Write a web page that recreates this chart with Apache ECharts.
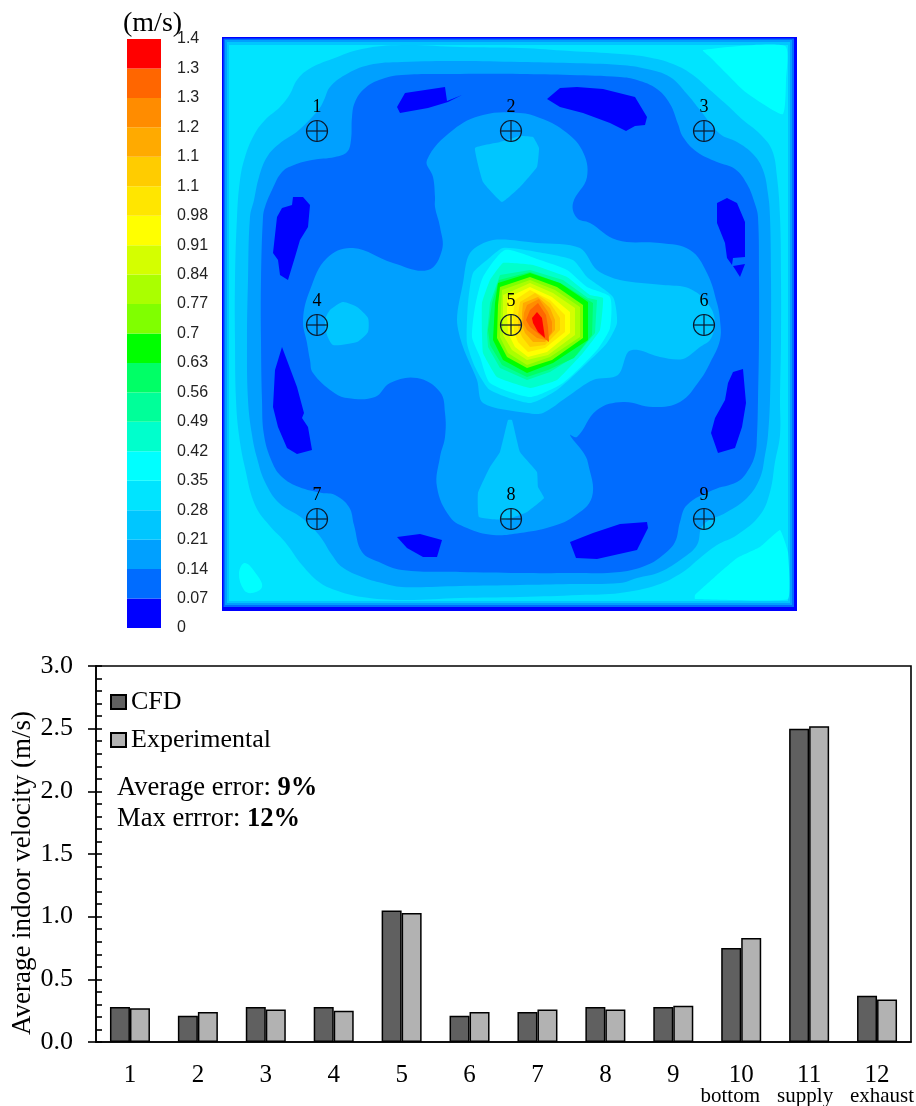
<!DOCTYPE html>
<html>
<head>
<meta charset="utf-8">
<style>html,body{margin:0;padding:0;background:#fff}#c{width:916px;height:1106px}</style>
<script src="https://cdn.jsdelivr.net/npm/echarts@6/dist/echarts.min.js"></script>
</head>
<body>
<div id="c"></div>
<script>
// ---- bar chart data ----
const categories = ['1','2','3','4','5','6','7','8','9','10','11','12'];
const categoryNotes = ['','','','','','','','','','bottom','supply','exhaust'];
const cfd = [0.28,0.21,0.28,0.28,1.05,0.21,0.24,0.28,0.28,0.75,2.50,0.37];
const experimental = [0.27,0.24,0.26,0.25,1.03,0.24,0.26,0.26,0.29,0.83,2.52,0.34];

// ---- colour scale ----
const scaleLabels = ['0','0.07','0.14','0.21','0.28','0.35','0.42','0.49','0.56','0.63','0.7','0.77','0.84','0.91','0.98','1.1','1.1','1.2','1.3','1.3','1.4'];
const bandColors = ['#0000FF','#006CFF','#00A0FF','#00C6FF','#00E4FF','#00FFFF','#00FFCC','#00FF99','#00FF66','#00FF00','#80FF00','#AAFF00','#D4FF00','#FFFF00','#FFE600','#FFCC00','#FFAA00','#FF8C00','#FF6600','#FF0000'];

// ---- measuring points ----
const pointNames = ['1','2','3','4','5','6','7','8','9'];
const pointX = [317,511,704,317,511,704,317,511,704];
const pointY = [131,131,131,325,325,325,519,519,519];

// ---- contour boundaries of the velocity field (room position units) ----
const edge0 = [[222,37],[797,37],[797,611],[222,611]];
const edge1 = [[223.5,38.5],[794,38.5],[794,607],[223.5,607]];
const edge2 = [[225,40],[792,40],[792,605],[225,605]];
const edge3 = [[227,42],[790,42],[790,603],[227,603]];
const edge4 = [[229,45],[788,45],[788,601],[229,601]];
const cyanTR = [[703,50],[785,46],[786,80],[783,114],[763,104],[743,90],[727,74],[710,57]];
const cyanBL = [[245,563],[257,575],[262,587],[252,593],[244,590],[239,573]];
const cyanBR = [[780,530],[788,552],[788,599],[695,599],[695,595],[717,575],[737,558],[760,547]];
const ringC6 = [[239,435],[236,400],[235,340],[235,280],[237,217],[240,180],[245,157],[254,135],[265,120],[280,107],[290,94],[297,80],[309,69],[332,59],[362,49],[402,45],[460,47],[520,48],[570,51],[620,54],[647,57],[673,64],[693,75],[710,90],[727,105],[743,120],[760,134],[772,150],[777,177],[780,217],[781,280],[781,340],[780,400],[780,435],[775,462],[770,492],[760,515],[737,535],[717,545],[700,558],[683,572],[657,585],[620,593],[580,595],[520,597],[460,598],[402,600],[362,597],[335,590],[319,582],[302,565],[285,542],[269,525],[255,505],[245,468]];
const ringA0 = [[252,435],[248,400],[247,340],[248,280],[250,217],[254,200],[259,177],[267,157],[279,144],[299,130],[319,109],[324,100],[330,87],[345,75],[369,65],[402,62],[460,61],[520,62],[570,63],[620,65],[647,69],[670,77],[687,94],[700,110],[720,134],[737,142],[753,154],[763,170],[768,194],[770,217],[771,280],[771,340],[770,400],[768,435],[765,455],[760,478],[747,498],[727,512],[703,525],[697,545],[683,558],[660,572],[637,578],[620,583],[570,584],[520,585],[460,586],[402,587],[382,583],[362,577],[342,567],[332,555],[319,535],[302,518],[279,503],[265,482],[257,458]];
const ring6C = [[264,435],[262,400],[261,340],[261,280],[263,217],[265,207],[272,190],[282,172],[294,165],[312,160],[335,157],[347,152],[351,140],[352,117],[355,102],[364,89],[379,80],[402,75],[460,74],[520,74],[570,75],[620,77],[637,80],[657,89],[670,104],[678,124],[683,137],[697,152],[717,162],[735,169],[747,184],[755,204],[758,217],[759,280],[759,340],[758,400],[757,435],[755,455],[747,472],[737,482],[713,490],[687,505],[680,522],[675,542],[663,555],[647,565],[620,572],[570,573],[520,573],[460,572],[402,570],[379,562],[362,552],[354,525],[349,507],[335,495],[322,493],[299,487],[282,477],[272,462]];
const lowA = [[397,107],[405,93],[445,87],[447,101],[462,95],[448,102],[428,108],[400,113]];
const lowB = [[547,99],[560,88],[577,87],[603,89],[635,97],[647,117],[645,125],[635,126],[626,131],[610,123],[583,113],[560,107]];
const lowC = [[293,197],[303,197],[310,205],[308,227],[300,240],[295,257],[288,280],[280,275],[278,260],[273,253],[277,217],[282,208],[292,205]];
const lowD = [[717,203],[727,198],[737,203],[745,222],[745,257],[733,258],[732,265],[727,258],[725,243],[717,223]];
const lowD2 = [[733,266],[745,264],[740,277]];
const lowE = [[282,347],[288,363],[297,387],[304,413],[302,418],[308,427],[312,450],[297,454],[287,448],[278,427],[273,407],[275,370]];
const lowF = [[733,372],[743,369],[746,403],[742,427],[735,448],[718,453],[711,433],[715,418],[725,400],[728,383]];
const lowG = [[397,537],[420,534],[442,540],[437,557],[423,557],[407,548]];
const lowH = [[570,542],[593,533],[620,524],[647,522],[648,528],[637,550],[597,559],[576,558]];
const crossA0 = [[520,113],[483,115],[453,130],[427,160],[433,177],[435,197],[435,207],[440,227],[442,250],[428,270],[393,263],[353,248],[327,258],[310,290],[303,320],[307,343],[310,360],[313,373],[333,392],[347,398],[375,397],[390,383],[417,378],[440,392],[445,413],[445,437],[440,457],[437,487],[450,517],[467,528],[493,535],[520,533],[550,527],[573,517],[592,497],[588,463],[583,452],[570,435],[577,437],[597,410],[623,402],[653,407],[680,402],[700,380],[710,363],[720,340],[720,320],[717,303],[707,273],[690,250],[660,243],[617,240],[590,223],[577,218],[573,203],[587,177],[582,150],[563,130],[540,118]];
const patchTop = [[475,148],[500,142],[520,136],[533,137],[539,148],[537,167],[520,187],[502,202],[483,182]];
const patchLeft = [[325,320],[330,310],[343,302],[357,307],[368,318],[368,332],[357,342],[333,345],[327,335]];
const patchBottom = [[508,420],[512,420],[520,452],[537,472],[538,487],[544,498],[527,512],[505,520],[479,517],[478,493],[490,467],[500,452]];
const coreC6 = [[493,240],[537,243],[580,248],[597,270],[620,280],[663,285],[685,287],[700,295],[712,310],[715,325],[710,340],[700,347],[683,359],[660,357],[638,350],[628,352],[618,375],[593,380],[567,397],[543,413],[527,413],[483,403],[477,380],[463,347],[457,320],[463,283],[470,253]];
const coreE4 = [[503,248],[537,252],[573,260],[587,277],[613,297],[617,323],[607,343],[587,363],[557,390],[530,403],[490,390],[475,367],[467,343],[468,303],[473,273],[487,260]];
const core5 = [[505,250],[540,260],[567,270],[587,287],[610,297],[610,328],[597,350],[563,383],[530,397],[490,383],[480,357],[472,337],[475,307],[483,277]];
const core6 = [[503,263],[533,265],[567,277],[590,295],[603,298],[600,330],[583,353],[557,380],[530,388],[497,377],[483,353],[482,333],[482,303],[490,280]];
const core7 = [[500,275],[530,270],[563,280],[588,298],[597,300],[595,333],[577,355],[550,372],[527,380],[500,368],[488,347],[487,333],[490,303]];
const core8 = [[499,280],[530,272],[562,284],[588,300],[593,303],[592,335],[574,358],[548,370],[527,377],[502,365],[490,345],[488,330],[492,303]];
const core9 = [[498,283],[530,273],[560,283],[588,302],[588,340],[553,363],[527,373],[503,360],[493,340],[495,303]];
const core10 = [[500,287],[530,277],[557,287],[583,305],[583,338],[552,360],[527,368],[507,357],[497,338],[498,305]];
const core11 = [[502,290],[530,280],[555,290],[580,307],[580,337],[550,357],[527,365],[508,353],[500,337],[501,307]];
const core12 = [[503,295],[530,283],[553,293],[575,308],[575,335],[548,355],[527,360],[512,350],[503,335],[503,310]];
const core13 = [[507,298],[530,287],[552,297],[570,312],[570,333],[547,352],[528,357],[515,347],[508,333],[507,313]];
const core14 = [[515,300],[530,290],[550,300],[565,315],[565,332],[545,348],[528,352],[518,342],[514,332],[513,315]];
const core15 = [[520,302],[535,293],[550,303],[560,318],[560,330],[545,345],[530,347],[522,337],[518,327],[518,315]];
const core16 = [[523,303],[538,297],[550,308],[555,320],[555,330],[545,342],[533,342],[525,333],[522,325],[522,313]];
const core17 = [[527,305],[539,299],[548,312],[552,322],[552,332],[546,340],[537,338],[527,330],[523,323],[524,313]];
const core18 = [[530,310],[538,303],[546,315],[548,327],[549,342],[540,335],[530,327],[526,320]];
const core19 = [[537,312],[542,318],[545,338],[538,332],[533,323],[532,318]];

// painting order: [colour band, boundary, rounded?]
const layers = [
  [0,edge0,0],[1,edge1,0],[2,edge2,0],[3,edge3,0],[4,edge4,0],
  [5,cyanTR,0.2],[5,cyanBL,0.4],[5,cyanBR,0.1],
  [3,ringC6,0.4],[2,ringA0,0.4],[1,ring6C,0.4],
  [0,lowA,0],[0,lowB,0],[0,lowC,0],[0,lowD,0],[0,lowD2,0],[0,lowE,0],[0,lowF,0],[0,lowG,0],[0,lowH,0],
  [2,crossA0,0.4],
  [3,patchTop,0.1],[3,patchLeft,0.2],[3,patchBottom,0.1],[3,coreC6,0.3],
  [4,coreE4,0.2],[5,core5,0.2],[6,core6,0.1],[7,core7,0],[8,core8,0],[9,core9,0],[10,core10,0],[11,core11,0],
  [12,core12,0],[13,core13,0],[14,core14,0],[15,core15,0],[16,core16,0],[17,core17,0],[18,core18,0],[19,core19,0]
];

const serif = '"Liberation Serif","Times New Roman",serif';
const sans = '"Liberation Sans",Arial,sans-serif';
const notePad = {bottom:[0,22,0,0], supply:[0,8,0,0], exhaust:[0,0,0,10]};
const noteRich = {};
Object.keys(notePad).forEach(k => { noteRich[k] = {fontFamily:serif,fontSize:21,lineHeight:17,color:'#000',padding:notePad[k]}; });

const chart = echarts.init(document.getElementById('c'), null, {renderer:'canvas'});
chart.setOption({
  animation:false,
  backgroundColor:'#fff',
  grid:[
    {left:96,top:666,width:815,height:376,outerBoundsMode:'none',show:true,borderColor:'#000',borderWidth:1.6,backgroundColor:'transparent'},
    {left:222,top:37,width:575,height:574,outerBoundsMode:'none'},
    {left:127,top:39,width:34,height:589,outerBoundsMode:'none'}
  ],
  xAxis:[
    {gridIndex:0,type:'category',data:categories,
      axisLine:{lineStyle:{color:'#000',width:1.6}},
      axisTick:{length:7,lineStyle:{color:'#000',width:1.6}},
      axisLabel:{margin:20,interval:0,color:'#000',fontFamily:serif,fontSize:25,lineHeight:26,
        formatter:(v,i)=> categoryNotes[i] ? v+'\n{'+categoryNotes[i]+'|'+categoryNotes[i]+'}' : v,
        rich:noteRich}},
    {gridIndex:1,type:'value',min:222,max:797,show:false},
    {gridIndex:2,type:'value',min:0,max:1,show:false}
  ],
  yAxis:[
    {gridIndex:0,type:'value',min:0,max:3,interval:0.5,position:'left',
      name:'Average indoor velocity (m/s)',nameLocation:'middle',nameGap:60,nameRotate:90,nameMoveOverlap:false,
      nameTextStyle:{color:'#000',fontFamily:serif,fontSize:27,padding:[0,38,0,0]},
      axisLine:{show:true,lineStyle:{color:'#000',width:1.6}},
      axisTick:{show:true,length:8,lineStyle:{color:'#000',width:1.6}},
      splitLine:{show:false},
      axisLabel:{margin:23,color:'#000',fontFamily:serif,fontSize:26,formatter:v=>v.toFixed(1)}},
    {gridIndex:0,type:'value',min:0,max:3,interval:0.5,position:'left',
      axisLine:{show:false},
      axisLabel:{show:false},
      splitLine:{show:false},
      axisTick:{show:true,inside:true,length:6,lineStyle:{color:'#000',width:1.6}},
      minorTick:{show:true,splitNumber:5,length:6,lineStyle:{color:'#000',width:1.6}}},
    {gridIndex:1,type:'value',min:37,max:611,inverse:true,show:false},
    {gridIndex:2,type:'value',min:0,max:20,interval:1,position:'right',
      axisLine:{show:false},axisTick:{show:false},splitLine:{show:false},
      axisLabel:{margin:16,color:'#222',fontFamily:sans,fontSize:16,padding:[2,0,0,0],formatter:v=>scaleLabels[v]}}
  ],
  legend:{left:110,top:689,padding:0,orient:'vertical',icon:'rect',itemWidth:15,itemHeight:14,itemGap:12,
    data:['CFD','Experimental'],
    textStyle:{color:'#000',fontFamily:serif,fontSize:26}},
  graphic:[
    {type:'text',left:123,top:10,style:{text:'(m/s)',fontFamily:serif,fontSize:28,fill:'#000'}},
    {type:'text',left:117,top:775,style:{
      rich:{n:{fontFamily:serif,fontSize:26.6,fill:'#000'},b:{fontFamily:serif,fontSize:26.6,fontWeight:'bold',fill:'#000'}},
      text:'{n|Average error: }{b|9%}'}},
    {type:'text',left:117,top:806,style:{
      rich:{n:{fontFamily:serif,fontSize:26.6,fill:'#000'},b:{fontFamily:serif,fontSize:26.6,fontWeight:'bold',fill:'#000'}},
      text:'{n|Max errror: }{b|12%}'}}
  ],
  series:[
    {name:'CFD',type:'bar',xAxisIndex:0,yAxisIndex:0,data:cfd,barWidth:20,barGap:0,
      itemStyle:{color:'#606060',borderColor:'#000',borderWidth:1.5}},
    {name:'Experimental',type:'bar',xAxisIndex:0,yAxisIndex:0,data:experimental,barWidth:20,barGap:0,
      itemStyle:{color:'#B2B2B2',borderColor:'#000',borderWidth:1.5}},
    {type:'custom',xAxisIndex:1,yAxisIndex:2,silent:true,progressive:0,clip:true,
      data:layers.map((l,i)=>[i,0]),
      renderItem:(p,api)=>{
        const l = layers[p.dataIndex];
        const pts = l[1].map(q=>api.coord(q));
        return {type:'polygon',shape:{points:pts,smooth:l[2]||undefined},style:{fill:bandColors[l[0]],stroke:null}};
      }},
    {type:'custom',xAxisIndex:1,yAxisIndex:2,silent:true,progressive:0,clip:false,z:5,
      data:pointX.map((x,i)=>[x,pointY[i]]),
      renderItem:(p,api)=>{
        const c = api.coord([api.value(0),api.value(1)]);
        const r = 10.5, st = {stroke:'#0a1a30',fill:null,lineWidth:1.2};
        return {type:'group',children:[
          {type:'circle',shape:{cx:c[0],cy:c[1],r:r},style:st},
          {type:'line',shape:{x1:c[0]-r,y1:c[1],x2:c[0]+r,y2:c[1]},style:st},
          {type:'line',shape:{x1:c[0],y1:c[1]-r,x2:c[0],y2:c[1]+r},style:st},
          {type:'text',style:{x:c[0],y:c[1]-24,text:pointNames[p.dataIndex],align:'center',verticalAlign:'middle',fontFamily:serif,fontSize:18,fill:'#000'}}
        ]};
      }},
    {type:'custom',xAxisIndex:2,yAxisIndex:3,silent:true,progressive:0,
      data:bandColors.map((c,i)=>[0,i]),
      renderItem:(p,api)=>{
        const i = api.value(1);
        const a = api.coord([0,i+1]), b = api.coord([1,i]);
        return {type:'rect',shape:{x:a[0],y:a[1],width:b[0]-a[0],height:b[1]-a[1]},style:{fill:bandColors[i],stroke:null}};
      }}
  ]
});
</script>
</body>
</html>
